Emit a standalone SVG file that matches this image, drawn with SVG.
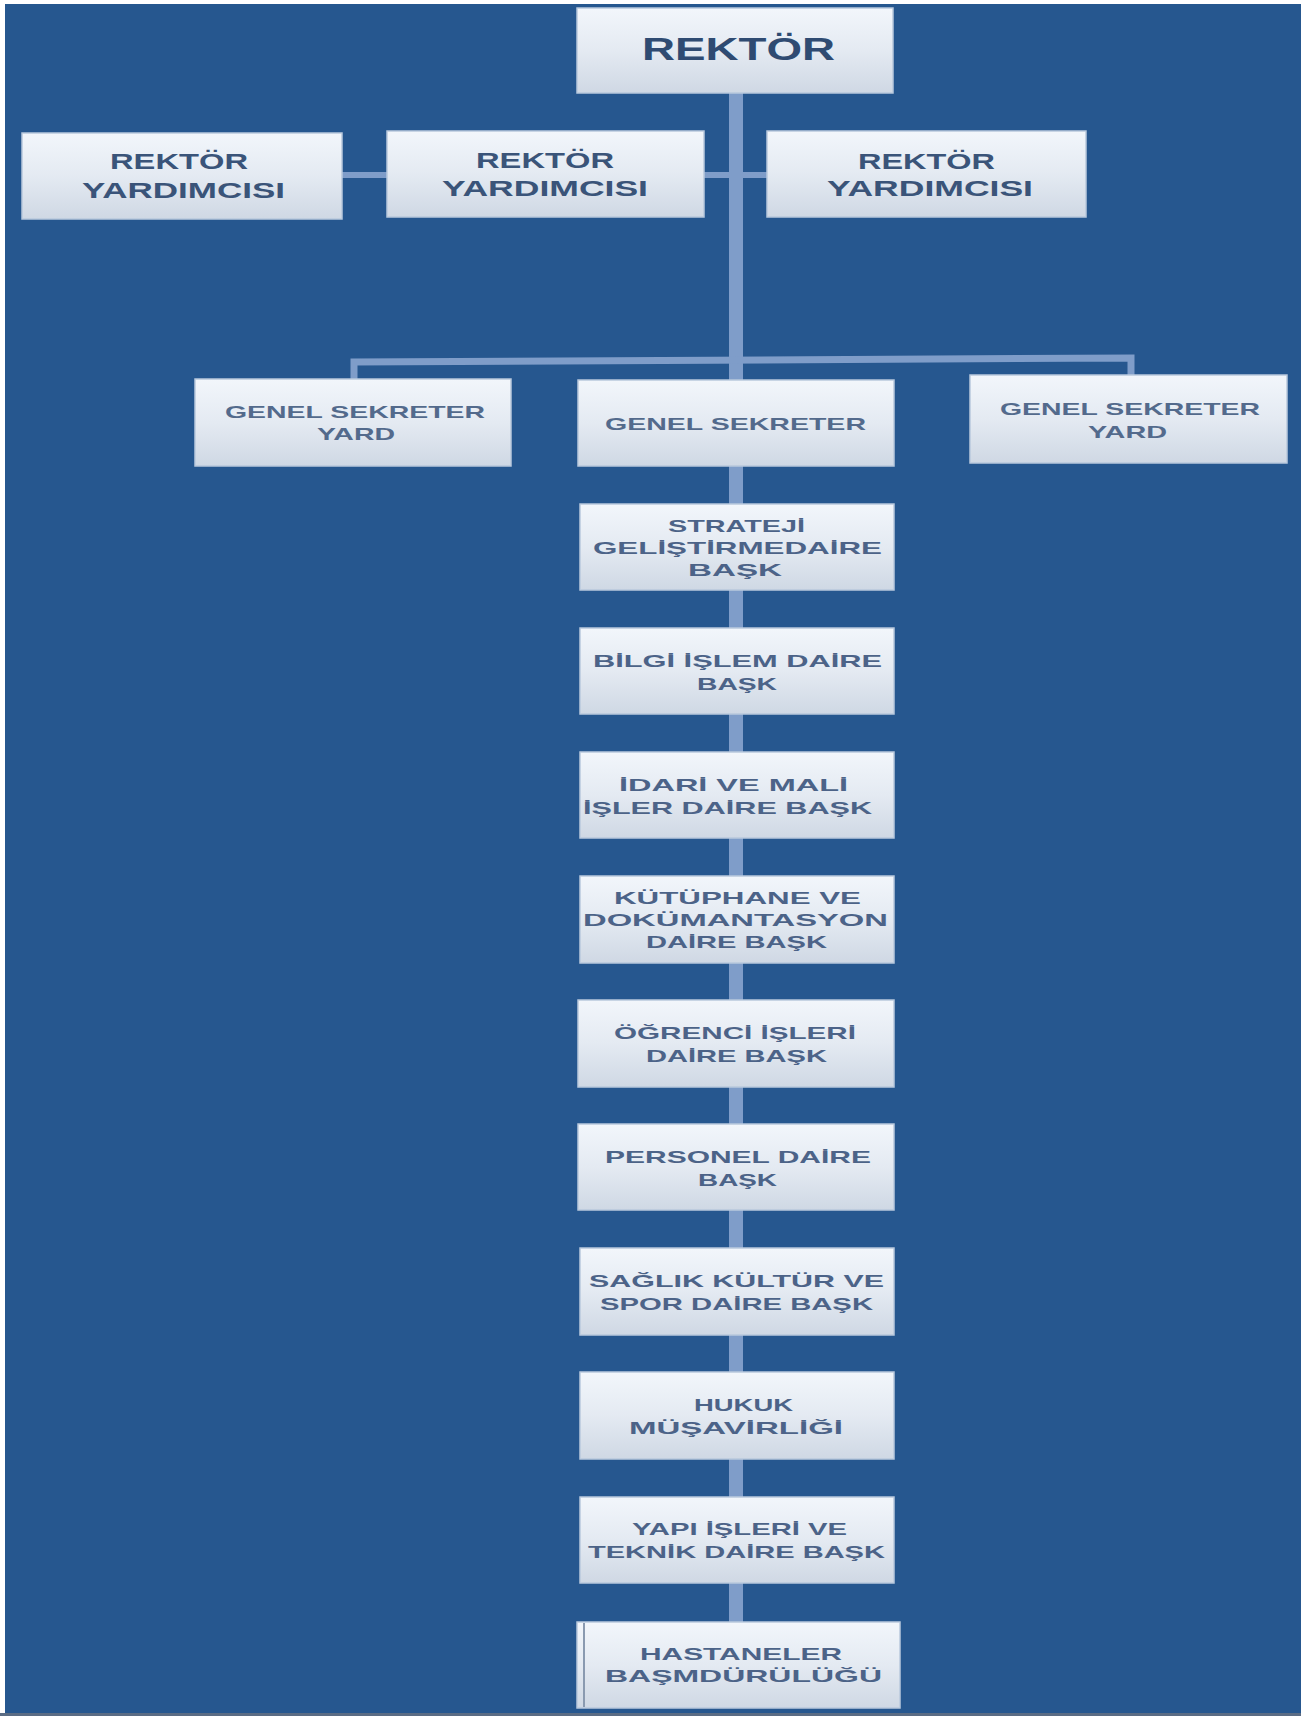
<svg xmlns="http://www.w3.org/2000/svg" width="1301" height="1716" viewBox="0 0 1301 1716">
<defs>
<linearGradient id="boxg" x1="0" y1="0" x2="0" y2="1">
<stop offset="0" stop-color="#F2F6FB"/>
<stop offset="0.5" stop-color="#E4EAF2"/>
<stop offset="1" stop-color="#CFD8E4"/>
</linearGradient>
</defs>
<style>
.box{fill:url(#boxg);stroke:#B9C9DD;stroke-width:1.5}
.t{font-family:"Liberation Sans",Arial,sans-serif;font-weight:bold;fill:#3B5478;text-anchor:start}
.big{font-size:31px;fill:#2F4B72}
.ry{font-size:22px;fill:#3A5479}
.sm{font-size:17px;fill:#536A8C}
.st{font-size:17px;fill:#4C6388}
.con{stroke:#7F9DC9;fill:none}
</style>
<rect x="0" y="0" width="1301" height="1716" fill="#26578F"/>
<rect x="0" y="0" width="5" height="1716" fill="#FFFFFF"/>
<rect x="0" y="0" width="1301" height="4" fill="#FFFFFF"/>
<rect x="0" y="1713" width="1301" height="3" fill="#5B6C84"/>

<g id="connectors">
<line class="con" x1="736" y1="92" x2="736" y2="1622" stroke-width="14"/>
<line class="con" x1="341" y1="175" x2="388" y2="175" stroke-width="6"/>
<line class="con" x1="703" y1="175" x2="768" y2="175" stroke-width="6"/>
<path class="con" d="M354,380 L354,362 L1131,358 L1131,376" stroke-width="7"/>
</g>

<g id="rektor">
<rect class="box" x="577" y="8" width="316" height="85"/>
<text class="t big" x="642" y="60" textLength="193" lengthAdjust="spacingAndGlyphs">REKTÖR</text>
</g>

<g id="ry1">
<rect class="box" x="22" y="133" width="320" height="86"/>
<text class="t ry" x="110" y="169" textLength="138" lengthAdjust="spacingAndGlyphs">REKTÖR</text>
<text class="t ry" x="82" y="198" textLength="203" lengthAdjust="spacingAndGlyphs">YARDIMCISI</text>
</g>

<g id="ry2">
<rect class="box" x="387" y="131" width="317" height="86"/>
<text class="t ry" x="476" y="168" textLength="138" lengthAdjust="spacingAndGlyphs">REKTÖR</text>
<text class="t ry" x="442" y="196" textLength="206" lengthAdjust="spacingAndGlyphs">YARDIMCISI</text>
</g>

<g id="ry3">
<rect class="box" x="767" y="131" width="319" height="86"/>
<text class="t ry" x="858" y="169" textLength="137" lengthAdjust="spacingAndGlyphs">REKTÖR</text>
<text class="t ry" x="827" y="196" textLength="206" lengthAdjust="spacingAndGlyphs">YARDIMCISI</text>
</g>

<g id="gsy1">
<rect class="box" x="195" y="379" width="316" height="87"/>
<text class="t sm" x="225" y="418" textLength="260" lengthAdjust="spacingAndGlyphs">GENEL SEKRETER</text>
<text class="t sm" x="317" y="440" textLength="78" lengthAdjust="spacingAndGlyphs">YARD</text>
</g>

<g id="gs">
<rect class="box" x="578" y="380" width="316" height="86"/>
<text class="t sm" x="605" y="430" textLength="261" lengthAdjust="spacingAndGlyphs">GENEL SEKRETER</text>
</g>

<g id="gsy2">
<rect class="box" x="970" y="375" width="317" height="88"/>
<text class="t sm" x="1000" y="415" textLength="260" lengthAdjust="spacingAndGlyphs">GENEL SEKRETER</text>
<text class="t sm" x="1088" y="438" textLength="79" lengthAdjust="spacingAndGlyphs">YARD</text>
</g>

<g id="strateji">
<rect class="box" x="580" y="504" width="314" height="86"/>
<text class="t st" x="668" y="532" textLength="137" lengthAdjust="spacingAndGlyphs">STRATEJİ</text>
<text class="t st" x="593" y="554" textLength="289" lengthAdjust="spacingAndGlyphs">GELİŞTİRMEDAİRE</text>
<text class="t st" x="688" y="576" textLength="94" lengthAdjust="spacingAndGlyphs">BAŞK</text>
</g>

<g id="bilgi">
<rect class="box" x="580" y="628" width="314" height="86"/>
<text class="t st" x="593" y="667" textLength="289" lengthAdjust="spacingAndGlyphs">BİLGİ İŞLEM DAİRE</text>
<text class="t st" x="697" y="690" textLength="80" lengthAdjust="spacingAndGlyphs">BAŞK</text>
</g>

<g id="idari">
<rect class="box" x="580" y="752" width="314" height="86"/>
<text class="t st" x="619" y="791" textLength="229" lengthAdjust="spacingAndGlyphs">İDARİ VE MALİ</text>
<text class="t st" x="583" y="814" textLength="289" lengthAdjust="spacingAndGlyphs">İŞLER DAİRE BAŞK</text>
</g>

<g id="kutuphane">
<rect class="box" x="580" y="876" width="314" height="87"/>
<text class="t st" x="614" y="904" textLength="247" lengthAdjust="spacingAndGlyphs">KÜTÜPHANE VE</text>
<text class="t st" x="583" y="926" textLength="305" lengthAdjust="spacingAndGlyphs">DOKÜMANTASYON</text>
<text class="t st" x="646" y="948" textLength="181" lengthAdjust="spacingAndGlyphs">DAİRE BAŞK</text>
</g>

<g id="ogrenci">
<rect class="box" x="578" y="1000" width="316" height="87"/>
<text class="t st" x="614" y="1039" textLength="242" lengthAdjust="spacingAndGlyphs">ÖĞRENCİ İŞLERİ</text>
<text class="t st" x="646" y="1062" textLength="181" lengthAdjust="spacingAndGlyphs">DAİRE BAŞK</text>
</g>

<g id="personel">
<rect class="box" x="578" y="1124" width="316" height="86"/>
<text class="t st" x="605" y="1163" textLength="266" lengthAdjust="spacingAndGlyphs">PERSONEL DAİRE</text>
<text class="t st" x="698" y="1186" textLength="79" lengthAdjust="spacingAndGlyphs">BAŞK</text>
</g>

<g id="saglik">
<rect class="box" x="580" y="1248" width="314" height="87"/>
<text class="t st" x="589" y="1287" textLength="295" lengthAdjust="spacingAndGlyphs">SAĞLIK KÜLTÜR VE</text>
<text class="t st" x="600" y="1310" textLength="273" lengthAdjust="spacingAndGlyphs">SPOR DAİRE BAŞK</text>
</g>

<g id="hukuk">
<rect class="box" x="580" y="1372" width="314" height="87"/>
<text class="t st" x="694" y="1411" textLength="99" lengthAdjust="spacingAndGlyphs">HUKUK</text>
<text class="t st" x="629" y="1434" textLength="214" lengthAdjust="spacingAndGlyphs">MÜŞAVİRLİĞİ</text>
</g>

<g id="yapi">
<rect class="box" x="580" y="1497" width="314" height="86"/>
<text class="t st" x="632" y="1535" textLength="215" lengthAdjust="spacingAndGlyphs">YAPI İŞLERİ VE</text>
<text class="t st" x="588" y="1558" textLength="297" lengthAdjust="spacingAndGlyphs">TEKNİK DAİRE BAŞK</text>
</g>

<g id="hastaneler">
<rect class="box" x="577" y="1622" width="323" height="86"/>
<line x1="584" y1="1623" x2="584" y2="1707" stroke="#8A9AB0" stroke-width="2"/>
<text class="t st" x="640" y="1660" textLength="202" lengthAdjust="spacingAndGlyphs">HASTANELER</text>
<text class="t st" x="605" y="1682" textLength="277" lengthAdjust="spacingAndGlyphs">BAŞMDÜRÜLÜĞÜ</text>
</g>
</svg>
